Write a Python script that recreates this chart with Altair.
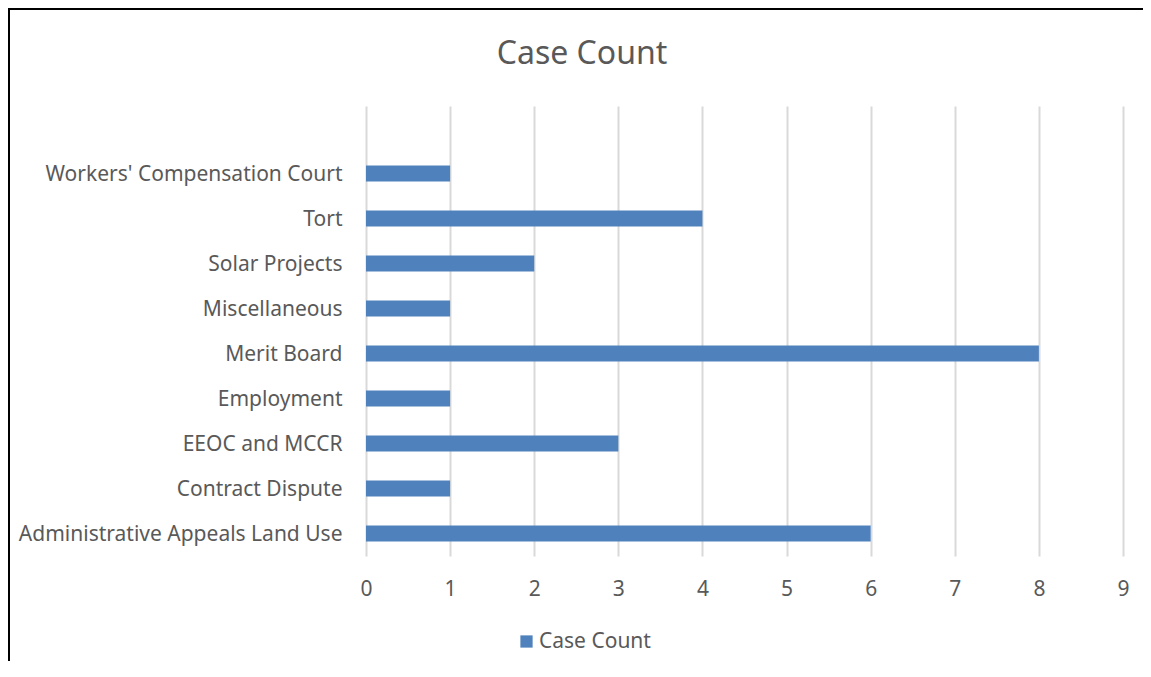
import altair as alt
import pandas as pd

categories = [
    "Administrative Appeals Land Use",
    "Contract Dispute",
    "EEOC and MCCR",
    "Employment",
    "Merit Board",
    "Miscellaneous",
    "Solar Projects",
    "Tort",
    "Workers' Compensation Court",
]
counts = [6, 1, 3, 1, 8, 1, 2, 4, 1]
series_name = "Case Count"
chart_title = "Case Count"
x_ticks = [0, 1, 2, 3, 4, 5, 6, 7, 8, 9]

df = pd.DataFrame({"category": categories, "count": counts, "series": [series_name] * len(categories)})

FONT = "Noto Sans"
GREY = "#595959"

y_domain = [""] + list(reversed(categories))

bars = alt.Chart(df).mark_bar().encode(
    x=alt.X(
        "count:Q",
        scale=alt.Scale(domain=[0, 9], nice=False),
        axis=alt.Axis(values=x_ticks, title=None, domain=False, ticks=False, grid=True,
                      gridColor="#d9d9d9", gridWidth=2, labelPadding=22, labelFontSize=21,
                      labelColor=GREY, labelFont=FONT, labelFlush=False),
    ),
    y=alt.Y(
        "category:N",
        sort=y_domain,
        scale=alt.Scale(domain=y_domain, paddingInner=0.644, paddingOuter=0.322),
        axis=alt.Axis(title=None, domain=False, ticks=False, grid=False, labelPadding=24,
                      labelFontSize=21, labelColor=GREY, labelFont=FONT, labelLimit=500,
                      labelOffset=1.5),
    ),
    color=alt.Color(
        "series:N",
        scale=alt.Scale(range=["#4F81BD"]),
        legend=alt.Legend(title=None, orient="none", legendX=150, legendY=525,
                          symbolType="square", symbolSize=150, labelFontSize=21,
                          labelColor=GREY, labelFont=FONT, symbolStrokeWidth=0,
                          labelOffset=2),
    ),
)

title_mark = alt.Chart(pd.DataFrame({"t": [chart_title]})).mark_text(
    font=FONT, fontSize=32, color=GREY, align="center", baseline="middle"
).encode(text="t:N", x=alt.value(216), y=alt.value(-52))

border = alt.Chart(pd.DataFrame({"a": [0]})).mark_rect(
    filled=False, stroke="black", strokeWidth=2
).encode(
    x=alt.value(-357), x2=alt.value(1000), y=alt.value(-97), y2=alt.value(800)
)

chart = alt.layer(bars, title_mark, border).properties(
    width=757,
    height=450,
    autosize=alt.AutoSizeParams(type="none"),
    padding={"left": 358, "top": 98, "right": 20, "bottom": 105},
).configure_view(stroke=None)

chart.save("out.html", embed_options={"renderer": "svg", "actions": False})
